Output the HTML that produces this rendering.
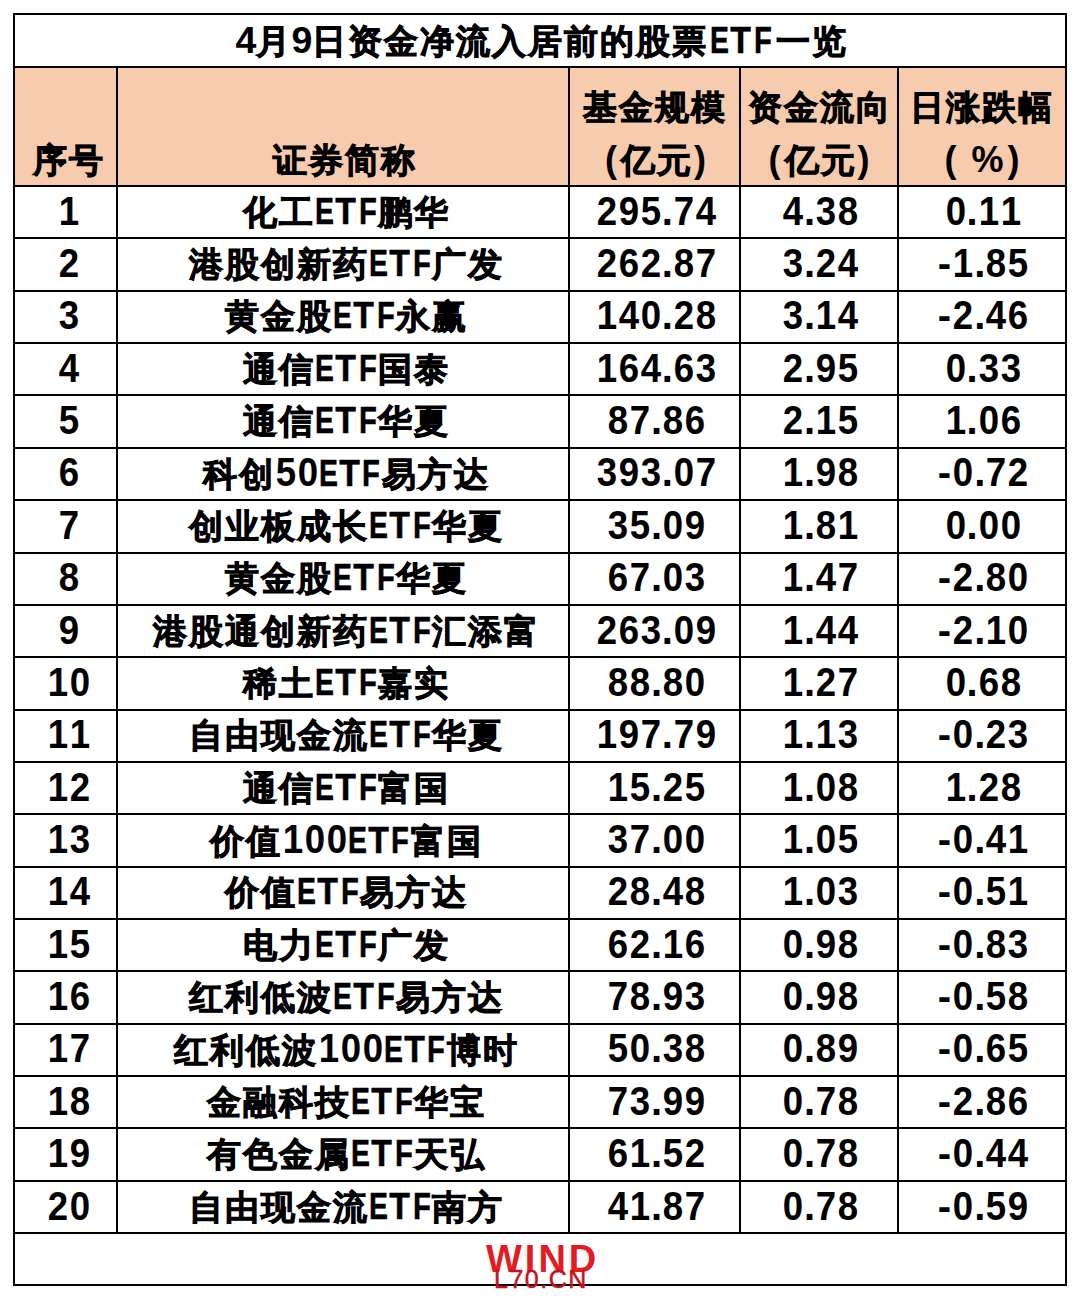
<!DOCTYPE html>
<html><head><meta charset="utf-8"><style>
html,body{margin:0;padding:0;background:#fff;width:1080px;height:1300px;overflow:hidden;}
body{position:relative;font-family:"Liberation Sans",sans-serif;font-weight:bold;color:#000;font-size:36px;}
.b{position:absolute;}
.t{position:absolute;width:800px;height:60px;line-height:60px;text-align:center;white-space:nowrap;}
.c{font-size:34px;letter-spacing:2px;-webkit-text-stroke:0.9px #000;position:relative;top:0px;}
.l{font-size:40px;letter-spacing:-0.8px;}
.tl{font-size:37.5px;}
.te{margin:0 2.5px;}
.e{font-size:37.5px;-webkit-text-stroke:0.5px #000;}
.e i{font-style:normal;display:inline-block;transform-origin:0 0;}
.eE{width:20.07px;transform:scaleX(0.757);}
.eT{width:23.56px;transform:scaleX(0.9);}
.eF{width:19.4px;transform:scaleX(0.78);}
.p{font-size:36px;}
.l2{font-size:40px;}
.l2 i{font-style:normal;display:inline-block;text-align:center;}
.dg{width:25.85px;margin:0 -2px;transform:scaleX(0.915);}
.dp{width:15.45px;margin:0 -2px;}
.dm{width:19.4px;margin:0 -2px;transform:scaleX(1.0);}
.pc{margin:0 1px 0 4px;}
.pl{margin-right:15px;}
.pct{margin-right:4px;}
.wind{position:absolute;white-space:nowrap;line-height:1;}
</style></head><body>
<div class="b" style="left:13px;top:66px;width:1054px;height:119px;background:#F7CBAD"></div>
<div class="b" style="left:13px;top:13px;width:1054px;height:2px;background:#000"></div>
<div class="b" style="left:13px;top:66px;width:1054px;height:2px;background:#000"></div>
<div class="b" style="left:13px;top:185px;width:1054px;height:2px;background:#000"></div>
<div class="b" style="left:13px;top:237px;width:1054px;height:2px;background:#000"></div>
<div class="b" style="left:13px;top:290px;width:1054px;height:2px;background:#000"></div>
<div class="b" style="left:13px;top:342px;width:1054px;height:2px;background:#000"></div>
<div class="b" style="left:13px;top:394px;width:1054px;height:2px;background:#000"></div>
<div class="b" style="left:13px;top:447px;width:1054px;height:2px;background:#000"></div>
<div class="b" style="left:13px;top:499px;width:1054px;height:2px;background:#000"></div>
<div class="b" style="left:13px;top:552px;width:1054px;height:2px;background:#000"></div>
<div class="b" style="left:13px;top:604px;width:1054px;height:2px;background:#000"></div>
<div class="b" style="left:13px;top:656px;width:1054px;height:2px;background:#000"></div>
<div class="b" style="left:13px;top:709px;width:1054px;height:2px;background:#000"></div>
<div class="b" style="left:13px;top:761px;width:1054px;height:2px;background:#000"></div>
<div class="b" style="left:13px;top:813px;width:1054px;height:2px;background:#000"></div>
<div class="b" style="left:13px;top:866px;width:1054px;height:2px;background:#000"></div>
<div class="b" style="left:13px;top:918px;width:1054px;height:2px;background:#000"></div>
<div class="b" style="left:13px;top:970px;width:1054px;height:2px;background:#000"></div>
<div class="b" style="left:13px;top:1023px;width:1054px;height:2px;background:#000"></div>
<div class="b" style="left:13px;top:1075px;width:1054px;height:2px;background:#000"></div>
<div class="b" style="left:13px;top:1127px;width:1054px;height:2px;background:#000"></div>
<div class="b" style="left:13px;top:1180px;width:1054px;height:2px;background:#000"></div>
<div class="b" style="left:13px;top:1232px;width:1054px;height:2px;background:#000"></div>
<div class="b" style="left:13px;top:1284px;width:1054px;height:2px;background:#000"></div>
<div class="b" style="left:13px;top:13px;width:2px;height:1273px;background:#000"></div>
<div class="b" style="left:1065px;top:13px;width:2px;height:1273px;background:#000"></div>
<div class="b" style="left:116px;top:66px;width:2px;height:1168px;background:#000"></div>
<div class="b" style="left:568px;top:66px;width:2px;height:1168px;background:#000"></div>
<div class="b" style="left:739px;top:66px;width:2px;height:1168px;background:#000"></div>
<div class="b" style="left:897px;top:66px;width:2px;height:1168px;background:#000"></div>
<div class="t" style="left:141.5px;top:10px"><span class="l tl">4</span><span class="c">月</span><span class="l tl">9</span><span class="c">日资金净流入居前的股票</span><span class="e te"><i class="eE">E</i><i class="eT">T</i><i class="eF">F</i></span><span class="c">一览</span></div>
<div class="t" style="left:-331.5px;top:130px"><span class="c">序号</span></div>
<div class="t" style="left:-55.5px;top:130px"><span class="c">证券简称</span></div>
<div class="t" style="left:254.5px;top:77px"><span class="c">基金规模</span></div>
<div class="t" style="left:255.5px;top:130px"><span class="p">(</span><span class="c pc">亿元</span><span class="p">)</span></div>
<div class="t" style="left:420.0px;top:77px"><span class="c">资金流向</span></div>
<div class="t" style="left:419.0px;top:130px"><span class="p">(</span><span class="c pc">亿元</span><span class="p">)</span></div>
<div class="t" style="left:582.0px;top:77px"><span class="c">日涨跌幅</span></div>
<div class="t" style="left:582.0px;top:130px"><span class="p pl">(</span><span class="p pct">%</span><span class="p">)</span></div>
<div class="t" style="left:-331.5px;top:180.68px"><span class="l2"><i class="dg">1</i></span></div>
<div class="t" style="left:-53.5px;top:180.68px"><span class="c">化工</span><span class="e"><i class="eE">E</i><i class="eT">T</i><i class="eF">F</i></span><span class="c">鹏华</span></div>
<div class="t" style="left:256.5px;top:180.68px"><span class="l2"><i class="dg">2</i><i class="dg">9</i><i class="dg">5</i><i class="dp">.</i><i class="dg">7</i><i class="dg">4</i></span></div>
<div class="t" style="left:420.5px;top:180.68px"><span class="l2"><i class="dg">4</i><i class="dp">.</i><i class="dg">3</i><i class="dg">8</i></span></div>
<div class="t" style="left:583.0px;top:180.68px"><span class="l2"><i class="dg">0</i><i class="dp">.</i><i class="dg">1</i><i class="dg">1</i></span></div>
<div class="t" style="left:-331.5px;top:233.03999999999996px"><span class="l2"><i class="dg">2</i></span></div>
<div class="t" style="left:-53.5px;top:233.03999999999996px"><span class="c">港股创新药</span><span class="e"><i class="eE">E</i><i class="eT">T</i><i class="eF">F</i></span><span class="c">广发</span></div>
<div class="t" style="left:256.5px;top:233.03999999999996px"><span class="l2"><i class="dg">2</i><i class="dg">6</i><i class="dg">2</i><i class="dp">.</i><i class="dg">8</i><i class="dg">7</i></span></div>
<div class="t" style="left:420.5px;top:233.03999999999996px"><span class="l2"><i class="dg">3</i><i class="dp">.</i><i class="dg">2</i><i class="dg">4</i></span></div>
<div class="t" style="left:583.0px;top:233.03999999999996px"><span class="l2"><i class="dm">-</i><i class="dg">1</i><i class="dp">.</i><i class="dg">8</i><i class="dg">5</i></span></div>
<div class="t" style="left:-331.5px;top:285.4px"><span class="l2"><i class="dg">3</i></span></div>
<div class="t" style="left:-53.5px;top:285.4px"><span class="c">黄金股</span><span class="e"><i class="eE">E</i><i class="eT">T</i><i class="eF">F</i></span><span class="c">永赢</span></div>
<div class="t" style="left:256.5px;top:285.4px"><span class="l2"><i class="dg">1</i><i class="dg">4</i><i class="dg">0</i><i class="dp">.</i><i class="dg">2</i><i class="dg">8</i></span></div>
<div class="t" style="left:420.5px;top:285.4px"><span class="l2"><i class="dg">3</i><i class="dp">.</i><i class="dg">1</i><i class="dg">4</i></span></div>
<div class="t" style="left:583.0px;top:285.4px"><span class="l2"><i class="dm">-</i><i class="dg">2</i><i class="dp">.</i><i class="dg">4</i><i class="dg">6</i></span></div>
<div class="t" style="left:-331.5px;top:337.76px"><span class="l2"><i class="dg">4</i></span></div>
<div class="t" style="left:-53.5px;top:337.76px"><span class="c">通信</span><span class="e"><i class="eE">E</i><i class="eT">T</i><i class="eF">F</i></span><span class="c">国泰</span></div>
<div class="t" style="left:256.5px;top:337.76px"><span class="l2"><i class="dg">1</i><i class="dg">6</i><i class="dg">4</i><i class="dp">.</i><i class="dg">6</i><i class="dg">3</i></span></div>
<div class="t" style="left:420.5px;top:337.76px"><span class="l2"><i class="dg">2</i><i class="dp">.</i><i class="dg">9</i><i class="dg">5</i></span></div>
<div class="t" style="left:583.0px;top:337.76px"><span class="l2"><i class="dg">0</i><i class="dp">.</i><i class="dg">3</i><i class="dg">3</i></span></div>
<div class="t" style="left:-331.5px;top:390.12px"><span class="l2"><i class="dg">5</i></span></div>
<div class="t" style="left:-53.5px;top:390.12px"><span class="c">通信</span><span class="e"><i class="eE">E</i><i class="eT">T</i><i class="eF">F</i></span><span class="c">华夏</span></div>
<div class="t" style="left:256.5px;top:390.12px"><span class="l2"><i class="dg">8</i><i class="dg">7</i><i class="dp">.</i><i class="dg">8</i><i class="dg">6</i></span></div>
<div class="t" style="left:420.5px;top:390.12px"><span class="l2"><i class="dg">2</i><i class="dp">.</i><i class="dg">1</i><i class="dg">5</i></span></div>
<div class="t" style="left:583.0px;top:390.12px"><span class="l2"><i class="dg">1</i><i class="dp">.</i><i class="dg">0</i><i class="dg">6</i></span></div>
<div class="t" style="left:-331.5px;top:442.48px"><span class="l2"><i class="dg">6</i></span></div>
<div class="t" style="left:-53.5px;top:442.48px"><span class="c">科创</span><span class="l2"><i class="dg">5</i><i class="dg">0</i></span><span class="e"><i class="eE">E</i><i class="eT">T</i><i class="eF">F</i></span><span class="c">易方达</span></div>
<div class="t" style="left:256.5px;top:442.48px"><span class="l2"><i class="dg">3</i><i class="dg">9</i><i class="dg">3</i><i class="dp">.</i><i class="dg">0</i><i class="dg">7</i></span></div>
<div class="t" style="left:420.5px;top:442.48px"><span class="l2"><i class="dg">1</i><i class="dp">.</i><i class="dg">9</i><i class="dg">8</i></span></div>
<div class="t" style="left:583.0px;top:442.48px"><span class="l2"><i class="dm">-</i><i class="dg">0</i><i class="dp">.</i><i class="dg">7</i><i class="dg">2</i></span></div>
<div class="t" style="left:-331.5px;top:494.8399999999999px"><span class="l2"><i class="dg">7</i></span></div>
<div class="t" style="left:-53.5px;top:494.8399999999999px"><span class="c">创业板成长</span><span class="e"><i class="eE">E</i><i class="eT">T</i><i class="eF">F</i></span><span class="c">华夏</span></div>
<div class="t" style="left:256.5px;top:494.8399999999999px"><span class="l2"><i class="dg">3</i><i class="dg">5</i><i class="dp">.</i><i class="dg">0</i><i class="dg">9</i></span></div>
<div class="t" style="left:420.5px;top:494.8399999999999px"><span class="l2"><i class="dg">1</i><i class="dp">.</i><i class="dg">8</i><i class="dg">1</i></span></div>
<div class="t" style="left:583.0px;top:494.8399999999999px"><span class="l2"><i class="dg">0</i><i class="dp">.</i><i class="dg">0</i><i class="dg">0</i></span></div>
<div class="t" style="left:-331.5px;top:547.2px"><span class="l2"><i class="dg">8</i></span></div>
<div class="t" style="left:-53.5px;top:547.2px"><span class="c">黄金股</span><span class="e"><i class="eE">E</i><i class="eT">T</i><i class="eF">F</i></span><span class="c">华夏</span></div>
<div class="t" style="left:256.5px;top:547.2px"><span class="l2"><i class="dg">6</i><i class="dg">7</i><i class="dp">.</i><i class="dg">0</i><i class="dg">3</i></span></div>
<div class="t" style="left:420.5px;top:547.2px"><span class="l2"><i class="dg">1</i><i class="dp">.</i><i class="dg">4</i><i class="dg">7</i></span></div>
<div class="t" style="left:583.0px;top:547.2px"><span class="l2"><i class="dm">-</i><i class="dg">2</i><i class="dp">.</i><i class="dg">8</i><i class="dg">0</i></span></div>
<div class="t" style="left:-331.5px;top:599.56px"><span class="l2"><i class="dg">9</i></span></div>
<div class="t" style="left:-53.5px;top:599.56px"><span class="c">港股通创新药</span><span class="e"><i class="eE">E</i><i class="eT">T</i><i class="eF">F</i></span><span class="c">汇添富</span></div>
<div class="t" style="left:256.5px;top:599.56px"><span class="l2"><i class="dg">2</i><i class="dg">6</i><i class="dg">3</i><i class="dp">.</i><i class="dg">0</i><i class="dg">9</i></span></div>
<div class="t" style="left:420.5px;top:599.56px"><span class="l2"><i class="dg">1</i><i class="dp">.</i><i class="dg">4</i><i class="dg">4</i></span></div>
<div class="t" style="left:583.0px;top:599.56px"><span class="l2"><i class="dm">-</i><i class="dg">2</i><i class="dp">.</i><i class="dg">1</i><i class="dg">0</i></span></div>
<div class="t" style="left:-331.5px;top:651.9200000000001px"><span class="l2"><i class="dg">1</i><i class="dg">0</i></span></div>
<div class="t" style="left:-53.5px;top:651.9200000000001px"><span class="c">稀土</span><span class="e"><i class="eE">E</i><i class="eT">T</i><i class="eF">F</i></span><span class="c">嘉实</span></div>
<div class="t" style="left:256.5px;top:651.9200000000001px"><span class="l2"><i class="dg">8</i><i class="dg">8</i><i class="dp">.</i><i class="dg">8</i><i class="dg">0</i></span></div>
<div class="t" style="left:420.5px;top:651.9200000000001px"><span class="l2"><i class="dg">1</i><i class="dp">.</i><i class="dg">2</i><i class="dg">7</i></span></div>
<div class="t" style="left:583.0px;top:651.9200000000001px"><span class="l2"><i class="dg">0</i><i class="dp">.</i><i class="dg">6</i><i class="dg">8</i></span></div>
<div class="t" style="left:-331.5px;top:704.28px"><span class="l2"><i class="dg">1</i><i class="dg">1</i></span></div>
<div class="t" style="left:-53.5px;top:704.28px"><span class="c">自由现金流</span><span class="e"><i class="eE">E</i><i class="eT">T</i><i class="eF">F</i></span><span class="c">华夏</span></div>
<div class="t" style="left:256.5px;top:704.28px"><span class="l2"><i class="dg">1</i><i class="dg">9</i><i class="dg">7</i><i class="dp">.</i><i class="dg">7</i><i class="dg">9</i></span></div>
<div class="t" style="left:420.5px;top:704.28px"><span class="l2"><i class="dg">1</i><i class="dp">.</i><i class="dg">1</i><i class="dg">3</i></span></div>
<div class="t" style="left:583.0px;top:704.28px"><span class="l2"><i class="dm">-</i><i class="dg">0</i><i class="dp">.</i><i class="dg">2</i><i class="dg">3</i></span></div>
<div class="t" style="left:-331.5px;top:756.64px"><span class="l2"><i class="dg">1</i><i class="dg">2</i></span></div>
<div class="t" style="left:-53.5px;top:756.64px"><span class="c">通信</span><span class="e"><i class="eE">E</i><i class="eT">T</i><i class="eF">F</i></span><span class="c">富国</span></div>
<div class="t" style="left:256.5px;top:756.64px"><span class="l2"><i class="dg">1</i><i class="dg">5</i><i class="dp">.</i><i class="dg">2</i><i class="dg">5</i></span></div>
<div class="t" style="left:420.5px;top:756.64px"><span class="l2"><i class="dg">1</i><i class="dp">.</i><i class="dg">0</i><i class="dg">8</i></span></div>
<div class="t" style="left:583.0px;top:756.64px"><span class="l2"><i class="dg">1</i><i class="dp">.</i><i class="dg">2</i><i class="dg">8</i></span></div>
<div class="t" style="left:-331.5px;top:809.0px"><span class="l2"><i class="dg">1</i><i class="dg">3</i></span></div>
<div class="t" style="left:-53.5px;top:809.0px"><span class="c">价值</span><span class="l2"><i class="dg">1</i><i class="dg">0</i><i class="dg">0</i></span><span class="e"><i class="eE">E</i><i class="eT">T</i><i class="eF">F</i></span><span class="c">富国</span></div>
<div class="t" style="left:256.5px;top:809.0px"><span class="l2"><i class="dg">3</i><i class="dg">7</i><i class="dp">.</i><i class="dg">0</i><i class="dg">0</i></span></div>
<div class="t" style="left:420.5px;top:809.0px"><span class="l2"><i class="dg">1</i><i class="dp">.</i><i class="dg">0</i><i class="dg">5</i></span></div>
<div class="t" style="left:583.0px;top:809.0px"><span class="l2"><i class="dm">-</i><i class="dg">0</i><i class="dp">.</i><i class="dg">4</i><i class="dg">1</i></span></div>
<div class="t" style="left:-331.5px;top:861.36px"><span class="l2"><i class="dg">1</i><i class="dg">4</i></span></div>
<div class="t" style="left:-53.5px;top:861.36px"><span class="c">价值</span><span class="e"><i class="eE">E</i><i class="eT">T</i><i class="eF">F</i></span><span class="c">易方达</span></div>
<div class="t" style="left:256.5px;top:861.36px"><span class="l2"><i class="dg">2</i><i class="dg">8</i><i class="dp">.</i><i class="dg">4</i><i class="dg">8</i></span></div>
<div class="t" style="left:420.5px;top:861.36px"><span class="l2"><i class="dg">1</i><i class="dp">.</i><i class="dg">0</i><i class="dg">3</i></span></div>
<div class="t" style="left:583.0px;top:861.36px"><span class="l2"><i class="dm">-</i><i class="dg">0</i><i class="dp">.</i><i class="dg">5</i><i class="dg">1</i></span></div>
<div class="t" style="left:-331.5px;top:913.72px"><span class="l2"><i class="dg">1</i><i class="dg">5</i></span></div>
<div class="t" style="left:-53.5px;top:913.72px"><span class="c">电力</span><span class="e"><i class="eE">E</i><i class="eT">T</i><i class="eF">F</i></span><span class="c">广发</span></div>
<div class="t" style="left:256.5px;top:913.72px"><span class="l2"><i class="dg">6</i><i class="dg">2</i><i class="dp">.</i><i class="dg">1</i><i class="dg">6</i></span></div>
<div class="t" style="left:420.5px;top:913.72px"><span class="l2"><i class="dg">0</i><i class="dp">.</i><i class="dg">9</i><i class="dg">8</i></span></div>
<div class="t" style="left:583.0px;top:913.72px"><span class="l2"><i class="dm">-</i><i class="dg">0</i><i class="dp">.</i><i class="dg">8</i><i class="dg">3</i></span></div>
<div class="t" style="left:-331.5px;top:966.08px"><span class="l2"><i class="dg">1</i><i class="dg">6</i></span></div>
<div class="t" style="left:-53.5px;top:966.08px"><span class="c">红利低波</span><span class="e"><i class="eE">E</i><i class="eT">T</i><i class="eF">F</i></span><span class="c">易方达</span></div>
<div class="t" style="left:256.5px;top:966.08px"><span class="l2"><i class="dg">7</i><i class="dg">8</i><i class="dp">.</i><i class="dg">9</i><i class="dg">3</i></span></div>
<div class="t" style="left:420.5px;top:966.08px"><span class="l2"><i class="dg">0</i><i class="dp">.</i><i class="dg">9</i><i class="dg">8</i></span></div>
<div class="t" style="left:583.0px;top:966.08px"><span class="l2"><i class="dm">-</i><i class="dg">0</i><i class="dp">.</i><i class="dg">5</i><i class="dg">8</i></span></div>
<div class="t" style="left:-331.5px;top:1018.44px"><span class="l2"><i class="dg">1</i><i class="dg">7</i></span></div>
<div class="t" style="left:-53.5px;top:1018.44px"><span class="c">红利低波</span><span class="l2"><i class="dg">1</i><i class="dg">0</i><i class="dg">0</i></span><span class="e"><i class="eE">E</i><i class="eT">T</i><i class="eF">F</i></span><span class="c">博时</span></div>
<div class="t" style="left:256.5px;top:1018.44px"><span class="l2"><i class="dg">5</i><i class="dg">0</i><i class="dp">.</i><i class="dg">3</i><i class="dg">8</i></span></div>
<div class="t" style="left:420.5px;top:1018.44px"><span class="l2"><i class="dg">0</i><i class="dp">.</i><i class="dg">8</i><i class="dg">9</i></span></div>
<div class="t" style="left:583.0px;top:1018.44px"><span class="l2"><i class="dm">-</i><i class="dg">0</i><i class="dp">.</i><i class="dg">6</i><i class="dg">5</i></span></div>
<div class="t" style="left:-331.5px;top:1070.8px"><span class="l2"><i class="dg">1</i><i class="dg">8</i></span></div>
<div class="t" style="left:-53.5px;top:1070.8px"><span class="c">金融科技</span><span class="e"><i class="eE">E</i><i class="eT">T</i><i class="eF">F</i></span><span class="c">华宝</span></div>
<div class="t" style="left:256.5px;top:1070.8px"><span class="l2"><i class="dg">7</i><i class="dg">3</i><i class="dp">.</i><i class="dg">9</i><i class="dg">9</i></span></div>
<div class="t" style="left:420.5px;top:1070.8px"><span class="l2"><i class="dg">0</i><i class="dp">.</i><i class="dg">7</i><i class="dg">8</i></span></div>
<div class="t" style="left:583.0px;top:1070.8px"><span class="l2"><i class="dm">-</i><i class="dg">2</i><i class="dp">.</i><i class="dg">8</i><i class="dg">6</i></span></div>
<div class="t" style="left:-331.5px;top:1123.1599999999999px"><span class="l2"><i class="dg">1</i><i class="dg">9</i></span></div>
<div class="t" style="left:-53.5px;top:1123.1599999999999px"><span class="c">有色金属</span><span class="e"><i class="eE">E</i><i class="eT">T</i><i class="eF">F</i></span><span class="c">天弘</span></div>
<div class="t" style="left:256.5px;top:1123.1599999999999px"><span class="l2"><i class="dg">6</i><i class="dg">1</i><i class="dp">.</i><i class="dg">5</i><i class="dg">2</i></span></div>
<div class="t" style="left:420.5px;top:1123.1599999999999px"><span class="l2"><i class="dg">0</i><i class="dp">.</i><i class="dg">7</i><i class="dg">8</i></span></div>
<div class="t" style="left:583.0px;top:1123.1599999999999px"><span class="l2"><i class="dm">-</i><i class="dg">0</i><i class="dp">.</i><i class="dg">4</i><i class="dg">4</i></span></div>
<div class="t" style="left:-331.5px;top:1175.52px"><span class="l2"><i class="dg">2</i><i class="dg">0</i></span></div>
<div class="t" style="left:-53.5px;top:1175.52px"><span class="c">自由现金流</span><span class="e"><i class="eE">E</i><i class="eT">T</i><i class="eF">F</i></span><span class="c">南方</span></div>
<div class="t" style="left:256.5px;top:1175.52px"><span class="l2"><i class="dg">4</i><i class="dg">1</i><i class="dp">.</i><i class="dg">8</i><i class="dg">7</i></span></div>
<div class="t" style="left:420.5px;top:1175.52px"><span class="l2"><i class="dg">0</i><i class="dp">.</i><i class="dg">7</i><i class="dg">8</i></span></div>
<div class="t" style="left:583.0px;top:1175.52px"><span class="l2"><i class="dm">-</i><i class="dg">0</i><i class="dp">.</i><i class="dg">5</i><i class="dg">9</i></span></div>
<div class="wind" style="left:486px;top:1240px;font-size:38px;letter-spacing:3px;color:#E31B23;font-weight:bold;">WIND</div>
<div class="wind" style="left:494px;top:1267px;font-size:25px;letter-spacing:1.5px;color:#C8101A;font-weight:normal;-webkit-text-stroke:0.5px #C8101A;">L70.CN</div>
</body></html>
